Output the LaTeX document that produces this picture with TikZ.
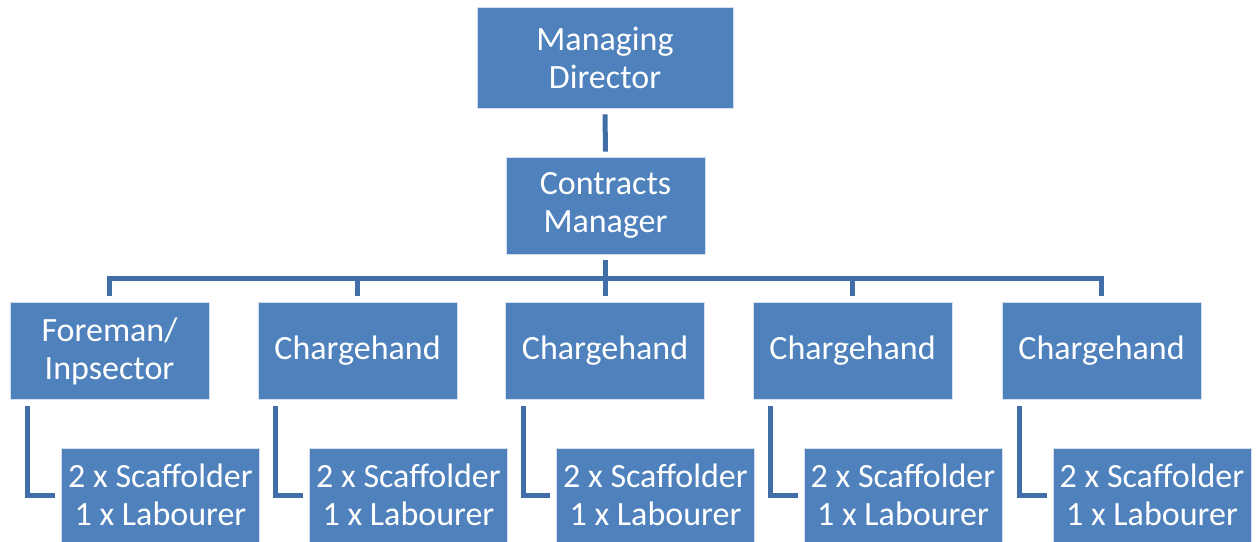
\documentclass[tikz,border=0pt]{standalone}
\usepackage{fontspec}
\setmainfont{Carlito}
\definecolor{boxblue}{RGB}{79,129,189}
\definecolor{linkblue}{RGB}{65,110,166}
\begin{document}
\begin{tikzpicture}[x=1pt,y=-1pt,
  orgbox/.style={fill=boxblue, draw=white!75!boxblue, line width=0.8pt,
    text=white, align=center, inner sep=0pt,
    font=\fontsize{34}{38}\selectfont},
  link/.style={draw=linkblue, line width=5pt}]
\useasboundingbox (0,0) rectangle (1256,541);

% top of the tree
\node[orgbox, minimum width=256pt, minimum height=101pt] (md) at (605,57.5) {Managing\\Director};
\node[orgbox, minimum width=199pt, minimum height=97pt] (cm) at (605.5,205.5) {Contracts\\Manager};

% second level
\foreach \n/\cx/\txt in {fi/109.5/{Foreman/\\Inpsector}, c1/357.5/Chargehand, c2/605/Chargehand, c3/852.5/Chargehand, c4/1101.5/Chargehand}{
  \node[orgbox, minimum width=199pt, minimum height=97pt] (\n) at (\cx,351) {\txt};
}

% crews
\foreach \n/\cx in {w1/160.5, w2/408.5, w3/655.5, w4/903, w5/1152}{
  \node[orgbox, minimum width=198pt, minimum height=94pt] (\n) at (\cx,495) {2 x Scaffolder\\1 x Labourer};
}

% connectors
\draw[link] ([yshift=-6pt]md.south) -- ([yshift=5pt]cm.north);
\foreach \n in {fi,c1,c2,c3,c4}{
  \draw[link] ([yshift=-6pt]cm.south) -- ++(0,18) -| ([yshift=6pt]\n.north);
}
\foreach \p/\c in {fi/w1, c1/w2, c2/w3, c3/w4, c4/w5}{
  \draw[link] ([xshift=18pt,yshift=-6pt]\p.south west) |- ([xshift=-6pt]\c.west);
}
\end{tikzpicture}
\end{document}
